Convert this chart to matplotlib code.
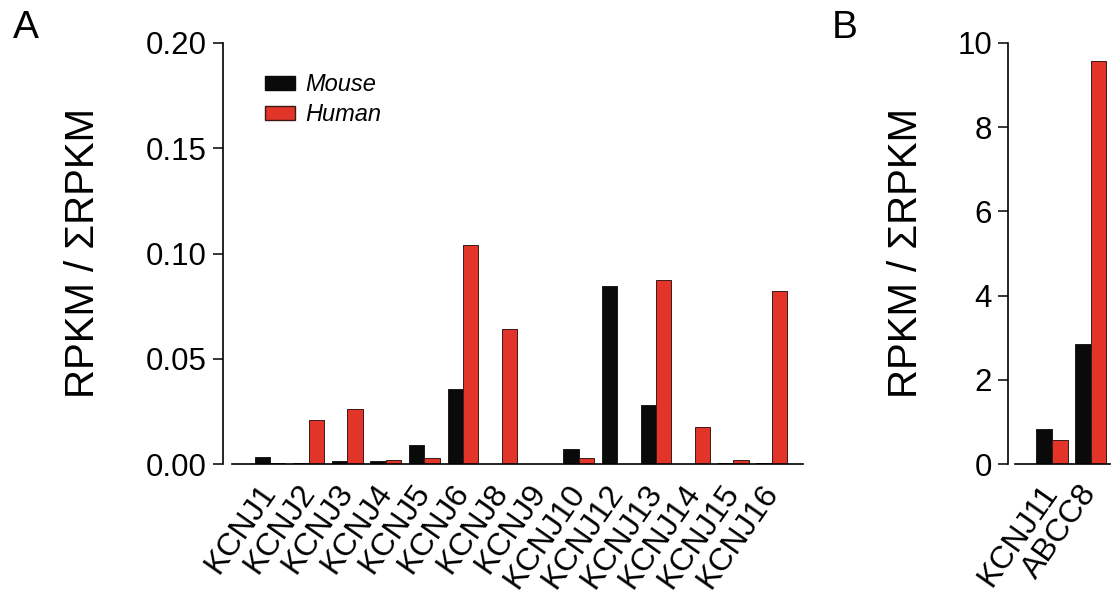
import numpy as np
import matplotlib
matplotlib.use("Agg")
import matplotlib.pyplot as plt
from matplotlib.patches import Patch

plt.rcParams["font.family"] = ["Liberation Sans", "DejaVu Sans"]

# -------------------------------------------------
# Data
# -------------------------------------------------
genes_a = ["KCNJ1", "KCNJ2", "KCNJ3", "KCNJ4", "KCNJ5", "KCNJ6", "KCNJ8",
           "KCNJ9", "KCNJ10", "KCNJ12", "KCNJ13", "KCNJ14", "KCNJ15", "KCNJ16"]
mouse_a = [0.0033, 0.0005, 0.0015, 0.0015, 0.0090, 0.0355, 0.0000,
           0.0000, 0.0070, 0.0845, 0.0280, 0.0000, 0.0005, 0.0007]
human_a = [0.0005, 0.0210, 0.0260, 0.0020, 0.0030, 0.1040, 0.0640,
           0.0000, 0.0030, 0.0000, 0.0875, 0.0177, 0.0020, 0.0820]

genes_b = ["KCNJ11", "ABCC8"]
mouse_b = [0.84, 2.86]
human_b = [0.57, 9.58]

yticks_a = [0.0, 0.05, 0.10, 0.15, 0.20]
yticks_b = [0, 2, 4, 6, 8, 10]

BLACK = "#0a0a0a"
RED = "#e3342a"
W, H = 1117, 600


def style_axis(ax, yticks, fmt, offset_pt):
    for s in ["top", "right"]:
        ax.spines[s].set_visible(False)
    ax.spines["left"].set_position(("outward", offset_pt))
    ax.spines["left"].set_linewidth(1.2)
    ax.spines["bottom"].set_linewidth(1.2)
    ax.set_yticks(yticks)
    ax.set_yticklabels([fmt.format(v) for v in yticks])
    ax.tick_params(axis="y", direction="out", length=7.5, width=1.1,
                   pad=4, labelsize=22.5)
    ax.tick_params(axis="x", length=0, pad=17, labelsize=23)
    for lab in ax.get_xticklabels():
        lab.set_rotation(55)
        lab.set_ha("right")
        lab.set_va("center")
        lab.set_rotation_mode("anchor")


def draw_bars(ax, mouse, human, width=0.40):
    x = np.arange(len(mouse))
    ax.bar(x - width / 2, mouse, width, color=BLACK, edgecolor=BLACK,
           linewidth=0.6)
    ax.bar(x + width / 2, human, width, color=RED, edgecolor="#3a1a18",
           linewidth=0.7)
    return x


fig = plt.figure(figsize=(W / 100, H / 100), dpi=100)
fig.patch.set_facecolor("white")

bottom = 1 - 464 / H
height = (464 - 43) / H

# -------------------------------------------------
# Panel A
# -------------------------------------------------
ax_a = fig.add_axes([232 / W, bottom, (803 - 232) / W, height])
x = draw_bars(ax_a, mouse_a, human_a)
ax_a.set_xticks(x)
ax_a.set_xticklabels(genes_a)
ax_a.set_xlim(-0.984, 13.81)
ax_a.set_ylim(0, 0.20)
style_axis(ax_a, yticks_a, "{:.2f}", 6.5)
ax_a.set_ylabel("RPKM / \u03a3RPKM", fontsize=29)
ax_a.yaxis.set_label_coords((102 - 232) / (803 - 232), 0.5)

handles = [Patch(facecolor=BLACK, edgecolor=BLACK, label="Mouse"),
           Patch(facecolor=RED, edgecolor="#3a1a18", label="Human")]
leg = ax_a.legend(handles=handles, loc="upper left",
                  bbox_to_anchor=(244 / W, 1 - 52 / H),
                  bbox_transform=fig.transFigure, frameon=False,
                  handlelength=1.25, handleheight=0.55, handletextpad=0.45,
                  labelspacing=0.3, prop={"size": 17, "style": "italic"})

# -------------------------------------------------
# Panel B
# -------------------------------------------------
ax_b = fig.add_axes([1015 / W, bottom, (1110 - 1015) / W, height])
xb = draw_bars(ax_b, mouse_b, human_b)
ax_b.set_xticks(xb)
ax_b.set_xticklabels(genes_b)
ax_b.set_xlim(-0.95, 1.49)
ax_b.set_ylim(0, 10)
style_axis(ax_b, yticks_b, "{:d}", 5)
ax_b.set_ylabel("RPKM / \u03a3RPKM", fontsize=29)
ax_b.yaxis.set_label_coords((925 - 1015) / (1110 - 1015), 0.5)

fig.text(13 / W, 1 - 10 / H, "A", fontsize=28, va="top", ha="left")
fig.text(832 / W, 1 - 10 / H, "B", fontsize=28, va="top", ha="left")

fig.savefig("out.png", dpi=100)
